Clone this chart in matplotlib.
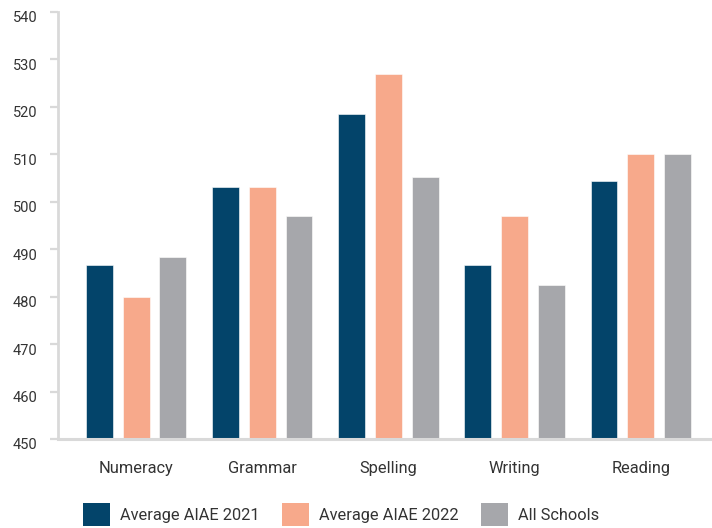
import matplotlib.pyplot as plt
import matplotlib.transforms as mtransforms
from matplotlib.patches import Patch
import numpy as np

# data
categories = ["Numeracy", "Grammar", "Spelling", "Writing", "Reading"]
aiae_2021 = [486.6, 503.1, 518.6, 486.7, 504.4]
aiae_2022 = [480.0, 503.1, 526.9, 497.0, 510.1]
all_schools = [488.3, 497.1, 505.2, 482.5, 510.1]
series_names = ["Average AIAE 2021", "Average AIAE 2022", "All Schools"]
colors = ["#03446A", "#F7A98B", "#A6A7AB"]
yticks = [450, 460, 470, 480, 490, 500, 510, 520, 530, 540]

plt.rcParams["font.family"] = ["Roboto", "DejaVu Sans"]

fig = plt.figure(figsize=(7.12, 5.28), dpi=100)
ax = fig.add_axes([0.0815, 0.1686, 0.93, 0.8087])

x = np.arange(len(categories))
w = 0.213
off = 0.291
for i, vals in enumerate([aiae_2021, aiae_2022, all_schools]):
    ax.bar(x + (i - 1) * off, np.array(vals) - 450, bottom=450, width=w,
           color=colors[i], edgecolor="white", linewidth=0.4, label=series_names[i])

ax.set_ylim(450, 540)
ax.set_xlim(-0.62, 4.63)
ax.set_yticks(yticks)
ax.set_xticks(x)
ax.set_xticklabels(categories, fontsize=11.8, color="#333333")

for s in ["top", "right"]:
    ax.spines[s].set_visible(False)
ax.spines["left"].set_color("#D9D9D9")
ax.spines["left"].set_linewidth(2)
ax.spines["bottom"].set_color("#D9D9D9")
ax.spines["bottom"].set_linewidth(2.2)

ax.tick_params(axis="y", length=6, width=1.6, color="#D9D9D9", pad=9,
               labelsize=10.5, labelcolor="#333333")
ax.tick_params(axis="x", length=0, pad=16)

# y tick labels sit a little below their tick marks
shift = mtransforms.ScaledTranslation(0, -5 / 100, fig.dpi_scale_trans)
for lab in ax.get_yticklabels():
    lab.set_transform(lab.get_transform() + shift)

handles = [Patch(facecolor=c, edgecolor="none") for c in colors]
fig.legend(handles, series_names, loc="center", bbox_to_anchor=(0.479, 0.025),
           ncol=3, frameon=False, fontsize=11.8, handlelength=1.65, handleheight=1.75,
           handletextpad=0.6, columnspacing=1.35, labelcolor="#333333",
           borderpad=0)

fig.savefig("out.png", dpi=100)
